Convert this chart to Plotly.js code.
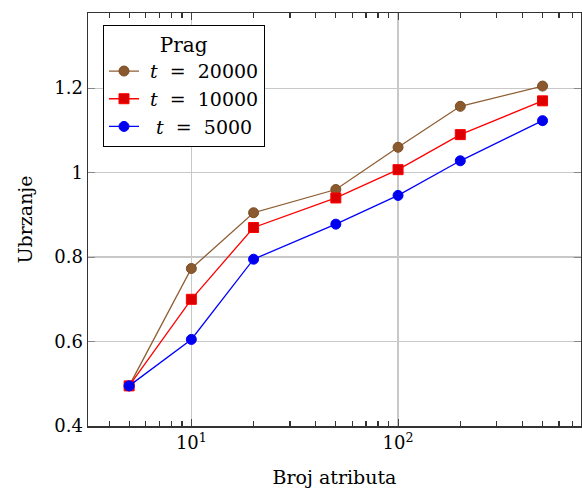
<!DOCTYPE html>
<html><head><meta charset="utf-8">
<script src="https://cdn.plot.ly/plotly-3.0.1.min.js"></script>
<style>html,body{margin:0;padding:0;background:#fff;}</style>
</head><body>
<div id="chart" style="width:582px;height:489px;"></div>
<script>
const attrs = [5, 10, 20, 50, 100, 200, 500];
const t20000 = [0.495, 0.773, 0.905, 0.960, 1.060, 1.157, 1.205];
const t10000 = [0.495, 0.700, 0.870, 0.940, 1.007, 1.090, 1.170];
const t5000 = [0.495, 0.605, 0.795, 0.878, 0.946, 1.028, 1.123];
const seriesNames = ['&nbsp;<i>t</i>&nbsp;&nbsp;=&nbsp;&nbsp;20000', '&nbsp;<i>t</i>&nbsp;&nbsp;=&nbsp;&nbsp;10000', '&nbsp;&nbsp;<i>t</i>&nbsp;&nbsp;=&nbsp;&nbsp;5000'];
const xTickVals = [10, 100];
const xTickText = ['10<sup>1</sup>', '10<sup>2</sup>'];
const xMinorVals = [4, 5, 6, 7, 8, 9, 20, 30, 40, 50, 60, 70, 80, 90, 200, 300, 400, 500, 600, 700];
const yTickVals = [0.4, 0.6, 0.8, 1.0, 1.2];

const font = 'DejaVu Serif, Liberation Serif, serif';
const xRange = [0.5, 2.885];
const traces = [
  {x: attrs, y: t20000, name: seriesNames[0], mode: 'lines+markers',
   line: {color: '#8f5e33', width: 1.3},
   marker: {symbol: 'circle', size: 10, color: '#8a5a2e', line: {color: '#7a4c24', width: 1}}},
  {x: attrs, y: t10000, name: seriesNames[1], mode: 'lines+markers',
   line: {color: '#ff0000', width: 1.3},
   marker: {symbol: 'square', size: 10, color: '#dd0000', line: {color: '#ff0000', width: 1}}},
  {x: attrs, y: t5000, name: seriesNames[2], mode: 'lines+markers',
   line: {color: '#0000ff', width: 1.3},
   marker: {symbol: 'circle', size: 10, color: '#0000ee', line: {color: '#0000ff', width: 1}}},
  {x: [attrs[0]], y: [t5000[0]], xaxis: 'x2', mode: 'markers', showlegend: false,
   marker: {size: 1, opacity: 0}, hoverinfo: 'skip'}
];
const layout = {
  width: 582, height: 489,
  margin: {l: 88, r: 1, t: 13, b: 63},
  paper_bgcolor: '#fff', plot_bgcolor: '#fff',
  font: {family: font, size: 18, color: '#000'},
  showlegend: true,
  legend: {
    x: 0.03, y: 0.971, xanchor: 'left', yanchor: 'top',
    bgcolor: '#fff', bordercolor: '#000', borderwidth: 1.2,
    font: {family: font, size: 19, color: '#000'},
    title: {text: 'Prag', side: 'top center', font: {family: font, size: 20, color: '#000'}},
    tracegroupgap: 0
  },
  xaxis: {
    type: 'log', range: xRange,
    tickvals: xTickVals, ticktext: xTickText,
    ticks: 'inside', ticklen: 7, tickcolor: '#444',
    showgrid: true, gridcolor: '#c8c8c8', gridwidth: 1.2,
    showline: true, linecolor: '#333', linewidth: 1.5, mirror: 'ticks',
    zeroline: false,
    tickfont: {family: font, size: 18, color: '#000'},
    title: {text: 'Broj atributa', font: {family: font, size: 19, color: '#000'}, standoff: 18}
  },
  xaxis2: {
    type: 'log', range: xRange, overlaying: 'x', anchor: 'y', side: 'bottom',
    tickmode: 'array', tickvals: xMinorVals,
    ticks: 'inside', ticklen: 5, tickcolor: '#333', tickwidth: 1.2,
    showticklabels: false, showgrid: false, zeroline: false,
    showline: true, linecolor: '#333', linewidth: 1.5, mirror: 'ticks'
  },
  yaxis: {
    range: [0.4, 1.378],
    tickvals: yTickVals,
    ticks: 'inside', ticklen: 7, tickcolor: '#888',
    showgrid: true, gridcolor: '#c8c8c8', gridwidth: 1.2,
    showline: true, linecolor: '#333', linewidth: 1.5, mirror: 'ticks',
    zeroline: false,
    tickfont: {family: font, size: 18, color: '#000'},
    title: {text: 'Ubrzanje', font: {family: font, size: 19, color: '#000'}, standoff: 16}
  }
};
Plotly.newPlot('chart', traces, layout, {displayModeBar: false, staticPlot: true});
</script>
</body></html>
